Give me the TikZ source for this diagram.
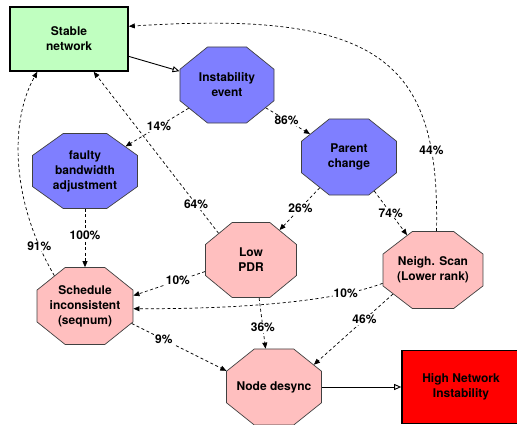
\documentclass[tikz,border=0pt]{standalone}
\usepackage{fontspec}
\setmainfont{TeX Gyre Heros}
\usetikzlibrary{shapes.geometric,arrows.meta}
\definecolor{oblue}{HTML}{7F7FFF}
\definecolor{opink}{HTML}{FFBFBF}
\definecolor{ogreen}{HTML}{C0FFC0}
\definecolor{ored}{HTML}{FF0000}
\begin{document}
\begin{tikzpicture}[x=1pt,y=-1pt,
  txt/.style={font=\bfseries\fontsize{12}{15}\selectfont, align=center},
  box/.style={txt, rectangle, draw=black, line width=1.6pt, inner sep=0pt},
  oct/.style={regular polygon, regular polygon sides=8,
    draw=black!75, line width=0.7pt, inner sep=0pt, minimum size=#1},
  dedge/.style={draw, dash pattern=on 3pt off 2.5pt, line width=0.7pt,
    -{Triangle[length=6pt,width=5pt]}},
  sedge/.style={draw, line width=0.9pt, -{Triangle[open,length=7pt,width=6pt]}},
  lbl/.style={txt, fill=white, inner sep=1pt}
]
\useasboundingbox (0,0) rectangle (517,425);
\node[box, fill=ogreen, minimum width=118pt, minimum height=64pt] (stable) at (69,39) {Stable\\network};
\node[box, fill=ored, minimum width=118pt, minimum height=73pt] (high) at (461,387) {High Network\\Instability};

\path (227,85) node[oct=82.3, xscale=1.237, fill=oblue] (inst) {};
\path (349,157) node[oct=82.3, xscale=1.25, fill=oblue] (parent) {};
\path (85,171) node[oct=81.2, xscale=1.40, fill=oblue] (faulty) {};
\path (251,260) node[oct=81.2, xscale=1.213, fill=opink] (lowpdr) {};
\path (433,270) node[oct=83.3, xscale=1.299, fill=opink] (neigh) {};
\path (85,306) node[oct=83.3, xscale=1.247, fill=opink] (sched) {};
\path (274,387) node[oct=82.3, xscale=1.25, fill=opink] (desync) {};

\node[txt] (instT) at (inst) {Instability\\event};
\node[txt] (parentT) at (parent) {Parent\\change};
\node[txt] (faultyT) at (faulty) {faulty\\bandwidth\\adjustment};
\node[txt] (lowpdrT) at (lowpdr) {Low\\PDR};
\node[txt] (neighT) at (neigh) {Neigh. Scan\\(Lower rank)};
\node[txt] (schedT) at (sched) {Schedule\\inconsistent\\(seqnum)};
\node[txt] (desyncT) at (desync) {Node desync};

\draw[sedge] (stable) -- (inst);
\draw[sedge] (desync) -- (high);
\draw[dedge] (inst) -- node[lbl, pos=0.47] {14\%} (faulty);
\draw[dedge] (inst) -- node[lbl, pos=0.47] {86\%} (parent);
\draw[dedge] (parent) -- node[lbl, pos=0.48] {26\%} (lowpdr);
\draw[dedge] (parent) -- node[lbl, pos=0.5] {74\%} (neigh);
\draw[dedge] (lowpdr.135) -- node[lbl, pos=0.18] {64\%} (stable.-53);
\draw[dedge] (neigh.86) .. controls (440,60) and (380,10) .. node[lbl, pos=0.18] {44\%} (stable.12);
\draw[dedge] (sched.129) .. controls (10,200) and (10,120) .. node[lbl, pos=0.13] {91\%} (stable.-134);
\draw[dedge] (faulty) -- node[lbl, pos=0.45] {100\%} (sched);
\draw[dedge] (lowpdr.197) -- node[lbl, pos=0.38] {10\%} (sched.15);
\draw[dedge] (neigh.199) .. controls (330,303) and (230,309) .. node[lbl, pos=0.2] {10\%} (sched.-4);
\draw[dedge] (sched.-25) -- node[lbl, pos=0.34] {9\%} (desync.157);
\draw[dedge] (lowpdr.-80) -- node[lbl, pos=0.58] {36\%} (desync.100);
\draw[dedge] (neigh.218) -- node[lbl, pos=0.36] {46\%} (desync.35);
\end{tikzpicture}
\end{document}
